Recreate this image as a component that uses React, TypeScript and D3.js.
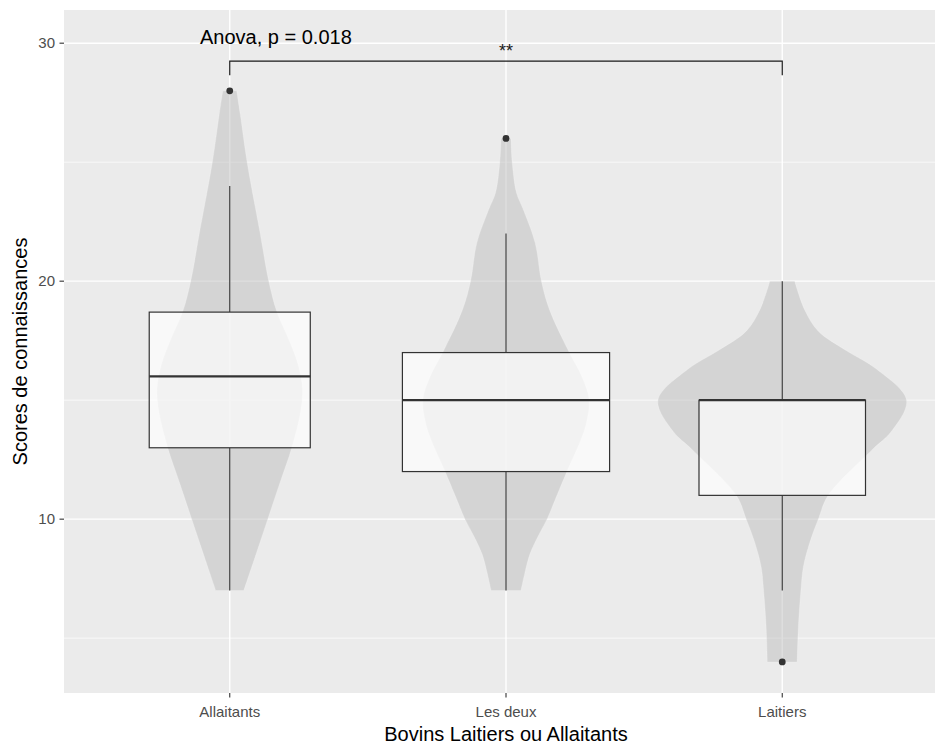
import React from 'react';
import * as d3 from 'd3';

// ---------- data ----------
const categories = ['Allaitants', 'Les deux', 'Laitiers'];
const groupSizes = [29, 48, 31];
const lowerWhisker = [7, 7, 7];
const q1 = [13, 12, 11];
const medians = [16, 15, 15];
const q3 = [18.7, 17, 15];
const upperWhisker = [24, 22, 20];
const outliers = [[28], [26], [4]];

// violin density profiles: [score, relative width]
const violinAllaitants: [number, number][] = [
  [28, 0.056], [27, 0.085], [25, 0.14], [22, 0.245], [20, 0.314], [18.7, 0.38],
  [17.5, 0.48], [16.5, 0.55], [15.5, 0.585], [14.5, 0.57], [13, 0.499],
  [11.5, 0.402], [10, 0.306], [8.5, 0.21], [7, 0.113],
];
const violinLesDeux: [number, number][] = [
  [26, 0.04], [25, 0.05], [23.7, 0.085], [23, 0.14], [21.6, 0.235], [20, 0.285],
  [18.8, 0.35], [17.1, 0.5], [16, 0.61], [15, 0.67], [14, 0.645], [13.3, 0.6],
  [12, 0.49], [11, 0.41], [10, 0.33], [9.2, 0.25], [8.5, 0.19], [7.7, 0.15], [7, 0.12],
];
const violinLaitiers: [number, number][] = [
  [20, 0.1], [18.8, 0.18], [17.9, 0.29], [17.1, 0.51], [16.3, 0.76], [15, 1.0],
  [13.7, 0.88], [12.9, 0.72], [11, 0.37], [10, 0.29], [9, 0.22], [8, 0.17],
  [7, 0.15], [5.5, 0.13], [4, 0.12],
];
const violins = [violinAllaitants, violinLesDeux, violinLaitiers];

const yTicks = [10, 20, 30];
const yMinorTicks = [5, 15, 25];
const dataRange = [4, 30.09];

const anovaLabel = 'Anova, p = 0.018';
const anovaPos = { x: 1.167, y: 29.97 };
const comparison = { from: 'Allaitants', to: 'Laitiers', label: '**', y: 29.25, tip: 28.65 };
const xTitle = 'Bovins Laitiers ou Allaitants';
const yTitle = 'Scores de connaissances';

// ---------- layout ----------
const W = 935;
const H = 744;
const panel = { left: 64, top: 10, right: 948, bottom: 693 };

export default function App() {
  const span = dataRange[1] - dataRange[0];
  const y = d3
    .scaleLinear()
    .domain([dataRange[0] - 0.05 * span, dataRange[1] + 0.05 * span])
    .range([panel.bottom, panel.top]);
  const xl = d3.scaleLinear().domain([0.4, categories.length + 0.6]).range([panel.left, panel.right]);
  const xc = (c: string) => xl(categories.indexOf(c) + 1);
  const unit = xl(1) - xl(0);
  const halfMax = 0.45 * unit;
  const maxSqrt = d3.max(groupSizes, (n) => Math.sqrt(n)) as number;

  const fontFamily = '"Liberation Sans", Arial, sans-serif';

  return (
    <svg
      width={W}
      height={H}
      style={{ position: 'absolute', left: 0, top: 0, background: '#fff' }}
      fontFamily={fontFamily}
    >
      <defs>
        <clipPath id="panelClip">
          <rect x={panel.left} y={panel.top} width={panel.right - panel.left} height={panel.bottom - panel.top} />
        </clipPath>
      </defs>
      <rect
        x={panel.left}
        y={panel.top}
        width={panel.right - panel.left}
        height={panel.bottom - panel.top}
        fill="#EBEBEB"
      />
      <g clipPath="url(#panelClip)">
        {yMinorTicks.map((t) => (
          <line key={'mn' + t} x1={panel.left} x2={panel.right} y1={y(t)} y2={y(t)} stroke="#fff" strokeWidth={0.7} />
        ))}
        {yTicks.map((t) => (
          <line key={'mj' + t} x1={panel.left} x2={panel.right} y1={y(t)} y2={y(t)} stroke="#fff" strokeWidth={1.4} />
        ))}
        {categories.map((c) => (
          <line key={'vx' + c} x1={xc(c)} x2={xc(c)} y1={panel.top} y2={panel.bottom} stroke="#fff" strokeWidth={1.4} />
        ))}

        {violins.map((prof, i) => {
          const cx = xc(categories[i]);
          const area = d3
            .area<[number, number]>()
            .y((d) => y(d[0]))
            .x0((d) => cx - d[1] * halfMax)
            .x1((d) => cx + d[1] * halfMax)
            .curve(d3.curveCatmullRom.alpha(0.5));
          return (
            <path
              key={'v' + i}
              d={area(prof) as string}
              fill="#BEBEBE"
              fillOpacity={0.5}
              stroke="#ffffff"
              strokeOpacity={0.35}
              strokeWidth={0.6}
            />
          );
        })}

        {categories.map((c, i) => {
          const cx = xc(c);
          const hw = (0.75 * unit * (Math.sqrt(groupSizes[i]) / maxSqrt)) / 2;
          return (
            <g key={'b' + c}>
              <line x1={cx} x2={cx} y1={y(q3[i])} y2={y(upperWhisker[i])} stroke="#333333" strokeWidth={1.1} />
              <line x1={cx} x2={cx} y1={y(q1[i])} y2={y(lowerWhisker[i])} stroke="#333333" strokeWidth={1.1} />
              <rect
                x={cx - hw}
                y={y(q3[i])}
                width={2 * hw}
                height={y(q1[i]) - y(q3[i])}
                fill="#ffffff"
                fillOpacity={0.7}
                stroke="#333333"
                strokeWidth={1.2}
              />
              <line x1={cx - hw} x2={cx + hw} y1={y(medians[i])} y2={y(medians[i])} stroke="#333333" strokeWidth={2.3} />
              {outliers[i].map((o, k) => (
                <circle key={k} cx={cx} cy={y(o)} r={3.4} fill="#333333" />
              ))}
            </g>
          );
        })}

        {/* comparison bracket */}
        <path
          d={`M${xc(comparison.from)},${y(comparison.tip)}V${y(comparison.y)}H${xc(comparison.to)}V${y(comparison.tip)}`}
          fill="none"
          stroke="#1a1a1a"
          strokeWidth={1.2}
        />
        <text
          x={(xc(comparison.from) + xc(comparison.to)) / 2}
          y={y(comparison.y) - 4}
          textAnchor="middle"
          fontSize={18}
          fill="#1a1a1a"
        >
          {comparison.label}
        </text>
        <text x={xl(anovaPos.x)} y={y(anovaPos.y)} textAnchor="middle" fontSize={20} fill="#000">
          {anovaLabel}
        </text>
      </g>

      {/* y axis */}
      {yTicks.map((t) => (
        <g key={'yt' + t}>
          <line x1={panel.left - 4.5} x2={panel.left} y1={y(t)} y2={y(t)} stroke="#333333" strokeWidth={1.1} />
          <text x={panel.left - 9} y={y(t)} dy="0.35em" textAnchor="end" fontSize={15} fill="#4D4D4D">
            {t}
          </text>
        </g>
      ))}
      {/* x axis */}
      {categories.map((c) => (
        <g key={'xt' + c}>
          <line x1={xc(c)} x2={xc(c)} y1={panel.bottom} y2={panel.bottom + 4.5} stroke="#333333" strokeWidth={1.1} />
          <text x={xc(c)} y={panel.bottom + 24} textAnchor="middle" fontSize={15} fill="#4D4D4D">
            {c}
          </text>
        </g>
      ))}
      <text x={(panel.left + panel.right) / 2} y={741} textAnchor="middle" fontSize={20} fill="#000">
        {xTitle}
      </text>
      <text
        transform={`translate(27,${(panel.top + panel.bottom) / 2}) rotate(-90)`}
        textAnchor="middle"
        fontSize={20}
        fill="#000"
      >
        {yTitle}
      </text>
    </svg>
  );
}
